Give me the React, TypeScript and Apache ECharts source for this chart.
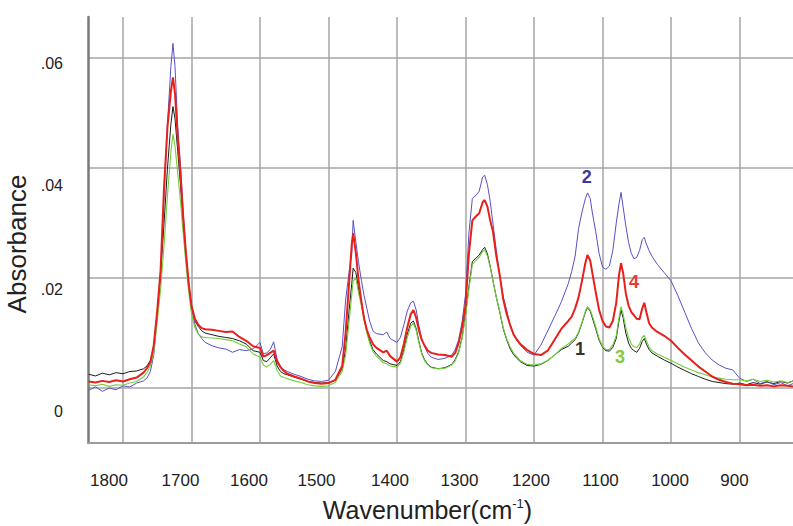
import React, { useEffect, useRef } from "react";
import * as echarts from "echarts";

// ---- DATA ----
const wavenumbers = [
  1850, 1840, 1830, 1820, 1810, 1800, 1790, 1780, 1770, 1765,
  1760, 1755, 1750, 1745, 1740, 1735, 1730, 1727, 1724, 1720,
  1716, 1712, 1708, 1704, 1700, 1695, 1690, 1685, 1680, 1670,
  1660, 1650, 1640, 1630, 1620, 1610, 1600, 1595, 1590, 1585,
  1580, 1575, 1570, 1565, 1560, 1550, 1540, 1530, 1520, 1510,
  1500, 1490, 1480, 1475, 1470, 1466, 1464, 1460, 1456, 1452,
  1448, 1444, 1440, 1435, 1430, 1420, 1415, 1410, 1400, 1395,
  1390, 1385, 1380, 1376, 1372, 1368, 1364, 1360, 1355, 1350,
  1340, 1330, 1320, 1315, 1310, 1305, 1300, 1295, 1290, 1285,
  1280, 1275, 1272, 1268, 1264, 1260, 1255, 1250, 1245, 1240,
  1235, 1230, 1225, 1220, 1210, 1200, 1190, 1180, 1170, 1160,
  1150, 1145, 1140, 1135, 1130, 1125, 1122, 1118, 1115, 1110,
  1105, 1100, 1095, 1090, 1085, 1080, 1076, 1073, 1070, 1066,
  1062, 1058, 1054, 1050, 1046, 1042, 1039, 1036, 1032, 1028,
  1020, 1010, 1000, 990, 980, 970, 960, 950, 940, 930,
  920, 910, 900, 890, 880, 870, 860, 850, 840, 830,
  822,
];

const curve1Black = [
  0.0025, 0.0022, 0.0027, 0.0024, 0.0028, 0.0026, 0.0030, 0.0031, 0.0035, 0.0040,
  0.0050, 0.0075, 0.0135, 0.0205, 0.0300, 0.0400, 0.0480, 0.0512, 0.0490, 0.0430,
  0.0370, 0.0300, 0.0240, 0.0190, 0.0150, 0.0122, 0.0112, 0.0104, 0.0100, 0.0097,
  0.0094, 0.0092, 0.0090, 0.0086, 0.0080, 0.0068, 0.0065, 0.0050, 0.0048, 0.0055,
  0.0062, 0.0040, 0.0030, 0.0026, 0.0024, 0.0020, 0.0016, 0.0012, 0.0010, 0.0009,
  0.0010, 0.0014, 0.0035, 0.0070, 0.0140, 0.0190, 0.0218, 0.0210, 0.0180, 0.0155,
  0.0128, 0.0104, 0.0086, 0.0070, 0.0062, 0.0050, 0.0048, 0.0044, 0.0041, 0.0048,
  0.0070, 0.0098, 0.0118, 0.0122, 0.0108, 0.0085, 0.0064, 0.0052, 0.0043, 0.0038,
  0.0035, 0.0037, 0.0043, 0.0052, 0.0066, 0.0092, 0.0135, 0.0185, 0.0230, 0.0236,
  0.0242, 0.0252, 0.0256, 0.0244, 0.0222, 0.0196, 0.0165, 0.0138, 0.0108, 0.0088,
  0.0072, 0.0061, 0.0054, 0.0048, 0.0041, 0.0040, 0.0043, 0.0050, 0.0060, 0.0070,
  0.0076, 0.0082, 0.0088, 0.0100, 0.0118, 0.0138, 0.0146, 0.0140, 0.0128, 0.0108,
  0.0087, 0.0074, 0.0068, 0.0067, 0.0074, 0.0090, 0.0122, 0.0142, 0.0128, 0.0100,
  0.0082, 0.0072, 0.0068, 0.0065, 0.0072, 0.0085, 0.0090, 0.0080, 0.0070, 0.0064,
  0.0058, 0.0051, 0.0045, 0.0038, 0.0032, 0.0026, 0.0021, 0.0016, 0.0012, 0.0010,
  0.0008, 0.0007, 0.0009, 0.0006, 0.0010, 0.0007, 0.0011, 0.0008, 0.0012, 0.0009,
  0.0013,
];

const curve2Blue = [
  -0.0004, 0.0002, -0.0006, 0.0000, -0.0003, 0.0004, 0.0002, 0.0009, 0.0013, 0.0018,
  0.0030, 0.0060, 0.0130, 0.0210, 0.0350, 0.0480, 0.0585, 0.0627, 0.0585, 0.0475,
  0.0405, 0.0320, 0.0245, 0.0188, 0.0148, 0.0116, 0.0099, 0.0090, 0.0083, 0.0077,
  0.0073, 0.0071, 0.0065, 0.0070, 0.0068, 0.0071, 0.0083, 0.0062, 0.0064, 0.0070,
  0.0084, 0.0052, 0.0039, 0.0033, 0.0030, 0.0025, 0.0021, 0.0016, 0.0013, 0.0012,
  0.0014, 0.0030, 0.0075, 0.0160, 0.0210, 0.0245, 0.0305, 0.0265, 0.0228, 0.0196,
  0.0168, 0.0145, 0.0122, 0.0104, 0.0099, 0.0097, 0.0102, 0.0090, 0.0083, 0.0092,
  0.0115, 0.0140, 0.0155, 0.0158, 0.0142, 0.0113, 0.0090, 0.0076, 0.0063, 0.0056,
  0.0052, 0.0054, 0.0060, 0.0070, 0.0088, 0.0120, 0.0170, 0.0282, 0.0345, 0.0350,
  0.0358, 0.0384, 0.0387, 0.0370, 0.0340, 0.0300, 0.0250, 0.0205, 0.0166, 0.0142,
  0.0115, 0.0098, 0.0087, 0.0078, 0.0065, 0.0060, 0.0078, 0.0104, 0.0130, 0.0157,
  0.0190, 0.0212, 0.0240, 0.0290, 0.0320, 0.0345, 0.0355, 0.0345, 0.0320, 0.0285,
  0.0245, 0.0220, 0.0216, 0.0222, 0.0250, 0.0300, 0.0335, 0.0356, 0.0330, 0.0295,
  0.0265, 0.0245, 0.0235, 0.0238, 0.0250, 0.0270, 0.0274, 0.0262, 0.0250, 0.0240,
  0.0225, 0.0210, 0.0195, 0.0168, 0.0138, 0.0108, 0.0082, 0.0064, 0.0051, 0.0042,
  0.0036, 0.0033, 0.0018, 0.0012, 0.0016, 0.0008, 0.0012, 0.0006, 0.0010, 0.0004,
  0.0008,
];

const curve3Green = [
  0.0006, 0.0004, 0.0007, 0.0003, 0.0006, 0.0005, 0.0009, 0.0012, 0.0020, 0.0028,
  0.0040, 0.0065, 0.0120, 0.0180, 0.0260, 0.0350, 0.0430, 0.0462, 0.0440, 0.0390,
  0.0340, 0.0280, 0.0225, 0.0175, 0.0135, 0.0110, 0.0098, 0.0093, 0.0092, 0.0091,
  0.0090, 0.0088, 0.0086, 0.0080, 0.0075, 0.0062, 0.0056, 0.0042, 0.0038, 0.0043,
  0.0050, 0.0032, 0.0022, 0.0019, 0.0017, 0.0013, 0.0010, 0.0006, 0.0004, 0.0003,
  0.0004, 0.0010, 0.0030, 0.0060, 0.0120, 0.0170, 0.0195, 0.0200, 0.0172, 0.0150,
  0.0125, 0.0100, 0.0082, 0.0066, 0.0058, 0.0046, 0.0044, 0.0040, 0.0038, 0.0045,
  0.0065, 0.0092, 0.0112, 0.0118, 0.0105, 0.0082, 0.0062, 0.0050, 0.0042, 0.0037,
  0.0035, 0.0036, 0.0042, 0.0050, 0.0064, 0.0090, 0.0130, 0.0180, 0.0225, 0.0232,
  0.0238, 0.0248, 0.0252, 0.0240, 0.0220, 0.0195, 0.0165, 0.0140, 0.0110, 0.0090,
  0.0075, 0.0064, 0.0057, 0.0050, 0.0043, 0.0042, 0.0044, 0.0050, 0.0060, 0.0072,
  0.0080, 0.0086, 0.0090, 0.0102, 0.0120, 0.0140, 0.0148, 0.0142, 0.0132, 0.0112,
  0.0090, 0.0076, 0.0070, 0.0070, 0.0078, 0.0095, 0.0128, 0.0148, 0.0135, 0.0110,
  0.0092, 0.0080, 0.0075, 0.0074, 0.0080, 0.0092, 0.0096, 0.0086, 0.0075, 0.0068,
  0.0062, 0.0056, 0.0050, 0.0044, 0.0038, 0.0033, 0.0028, 0.0024, 0.0020, 0.0018,
  0.0016, 0.0015, 0.0015, 0.0013, 0.0016, 0.0012, 0.0014, 0.0011, 0.0013, 0.0010,
  0.0012,
];

const curve4Red = [
  0.0012, 0.0010, 0.0013, 0.0011, 0.0014, 0.0012, 0.0016, 0.0019, 0.0028, 0.0036,
  0.0047, 0.0078, 0.0140, 0.0215, 0.0365, 0.0475, 0.0540, 0.0565, 0.0535, 0.0455,
  0.0390, 0.0310, 0.0245, 0.0190, 0.0150, 0.0126, 0.0115, 0.0109, 0.0107, 0.0106,
  0.0104, 0.0102, 0.0103, 0.0093, 0.0086, 0.0076, 0.0073, 0.0057, 0.0060, 0.0064,
  0.0068, 0.0048, 0.0038, 0.0031, 0.0026, 0.0021, 0.0017, 0.0012, 0.0009, 0.0008,
  0.0009, 0.0015, 0.0040, 0.0100, 0.0190, 0.0262, 0.0282, 0.0245, 0.0195, 0.0158,
  0.0126, 0.0106, 0.0092, 0.0080, 0.0073, 0.0065, 0.0068, 0.0058, 0.0048, 0.0056,
  0.0080, 0.0110, 0.0134, 0.0142, 0.0128, 0.0105, 0.0088, 0.0078, 0.0068, 0.0064,
  0.0061, 0.0060, 0.0057, 0.0064, 0.0082, 0.0110, 0.0150, 0.0245, 0.0305, 0.0312,
  0.0318, 0.0338, 0.0342, 0.0330, 0.0305, 0.0285, 0.0240, 0.0205, 0.0162, 0.0135,
  0.0115, 0.0098, 0.0088, 0.0080, 0.0069, 0.0062, 0.0060, 0.0068, 0.0088, 0.0108,
  0.0122, 0.0130, 0.0145, 0.0165, 0.0195, 0.0228, 0.0242, 0.0232, 0.0210, 0.0175,
  0.0142, 0.0122, 0.0112, 0.0110, 0.0122, 0.0155, 0.0205, 0.0227, 0.0210, 0.0172,
  0.0150, 0.0138, 0.0132, 0.0126, 0.0125, 0.0145, 0.0155, 0.0138, 0.0118, 0.0110,
  0.0102, 0.0095, 0.0086, 0.0073, 0.0061, 0.0050, 0.0039, 0.0030, 0.0021, 0.0015,
  0.0011, 0.0008, 0.0007, 0.0005, 0.0006, 0.0004, 0.0005, 0.0003, 0.0005, 0.0004,
  0.0003,
];

// curve number labels: [label, wavenumber, absorbance]
const curveLabelNames = ["1", "2", "3", "4"];
const curveLabelWavenumbers = [1133, 1123, 1074.5, 1054];
const curveLabelValues = [0.0071, 0.0384, 0.0056, 0.0193];

const xAxisTitle = "Wavenumber(cm";
const xAxisTitleSup = "-1";
const yAxisTitle = "Absorbance";

// ---- STYLE ----
const FONT = "'Liberation Sans', Arial, Helvetica, sans-serif";
const COLORS = ["#1c1c1c", "#5a4fc6", "#72cf3c", "#e8201c"];
const LABEL_COLORS = ["#333333", "#3a3a9c", "#86c83a", "#e83a30"];
const WIDTHS = [1, 1, 1.1, 2];

const yLabelPad: Record<number, number> = { 0: 46, 2: 22, 4: 34, 6: 10 };
const xLabelPad: Record<number, number> = {
  1800: 28, 1700: 22, 1600: 22, 1500: 24, 1400: 14,
  1300: 12, 1200: 6, 1100: 4, 1000: 2, 900: 10,
};

function buildOption() {
  const seriesVals = [curve1Black, curve2Blue, curve3Green, curve4Red];
  const yRich: Record<string, any> = {};
  Object.keys(yLabelPad).forEach((k) => {
    yRich["y" + k] = {
      fontSize: 16, fontFamily: FONT, color: "#222", lineHeight: 18,
      padding: [yLabelPad[Number(k)], 0, 0, 0],
    };
  });
  const xRich: Record<string, any> = {};
  Object.keys(xLabelPad).forEach((k) => {
    xRich["x" + k] = {
      fontSize: 17, fontFamily: FONT, color: "#222", lineHeight: 20,
      padding: [0, xLabelPad[Number(k)], 0, 0],
    };
  });

  const series = seriesVals.map((vals, i) => ({
    type: "line",
    name: "curve" + (i + 1),
    data: wavenumbers.map((w, j) => [w, vals[j]]),
    showSymbol: false,
    symbol: "none",
    silent: true,
    z: 2 + i,
    lineStyle: { color: COLORS[i], width: WIDTHS[i] },
    itemStyle: { color: COLORS[i] },
    markPoint: {
      silent: true,
      symbol: "circle",
      symbolSize: 1,
      itemStyle: { color: "rgba(0,0,0,0)" },
      label: {
        show: true,
        position: "inside",
        formatter: curveLabelNames[i],
        fontSize: 18,
        fontWeight: "bold",
        fontFamily: FONT,
        color: LABEL_COLORS[i],
      },
      data: [{ coord: [curveLabelWavenumbers[i], curveLabelValues[i]] }],
    },
  }));

  return {
    animation: false,
    backgroundColor: "#ffffff",
    grid: { left: 88, right: 0, top: 17, bottom: 83, containLabel: false, outerBoundsMode: "none" },
    xAxis: {
      type: "value",
      inverse: true,
      min: 822,
      max: 1851,
      splitNumber: 10,
      name: `{a|${xAxisTitle}}{s|${xAxisTitleSup}}{a|)}`,
      nameLocation: "middle",
      nameGap: 54,
      nameTextStyle: {
        padding: [0, 26, 0, 0],
        rich: {
          a: { fontSize: 25, fontFamily: FONT, color: "#222", lineHeight: 26 },
          s: { fontSize: 13, fontFamily: FONT, color: "#222", lineHeight: 12, verticalAlign: "top" },
        },
      },
      axisLine: { show: true, onZero: false, lineStyle: { color: "#9c9c9c", width: 2 } },
      axisTick: { show: false },
      axisLabel: {
        showMinLabel: false,
        showMaxLabel: false,
        margin: 27,
        formatter: (v: number) => `{x${Math.round(v)}|${Math.round(v)}}`,
        rich: xRich,
      },
      splitLine: {
        show: true,
        showMinLine: false,
        showMaxLine: false,
        lineStyle: { color: "#a6a6a6", width: 1.5 },
      },
    },
    yAxis: {
      type: "value",
      min: -0.01,
      max: 0.0675,
      splitNumber: 4,
      name: yAxisTitle,
      nameLocation: "middle",
      nameGap: 50,
      nameTextStyle: { fontSize: 26, fontFamily: FONT, color: "#222", padding: [0, 28, 0, 0] },
      axisLine: { show: true, onZero: false, lineStyle: { color: "#7a7a7a", width: 2.5 } },
      axisTick: { show: false },
      axisLabel: {
        showMinLabel: false,
        showMaxLabel: false,
        margin: 25,
        formatter: (v: number) => {
          const k = Math.round(v * 100);
          const t = k === 0 ? "0" : v.toFixed(2).replace(/^0/, "");
          return `{y${k}|${t}}`;
        },
        rich: yRich,
      },
      splitLine: {
        show: true,
        showMinLine: false,
        showMaxLine: false,
        lineStyle: { color: "#a6a6a6", width: 1.5 },
      },
    },
    series,
  };
}

export default function App() {
  const ref = useRef<HTMLDivElement>(null);
  useEffect(() => {
    if (!ref.current) return;
    const chart = echarts.init(ref.current, undefined, { renderer: "svg" });
    chart.setOption(buildOption() as any);
    return () => chart.dispose();
  }, []);
  return (
    <div
      ref={ref}
      style={{ position: "fixed", left: 0, top: 0, width: 793, height: 526, background: "#fff" }}
    />
  );
}
